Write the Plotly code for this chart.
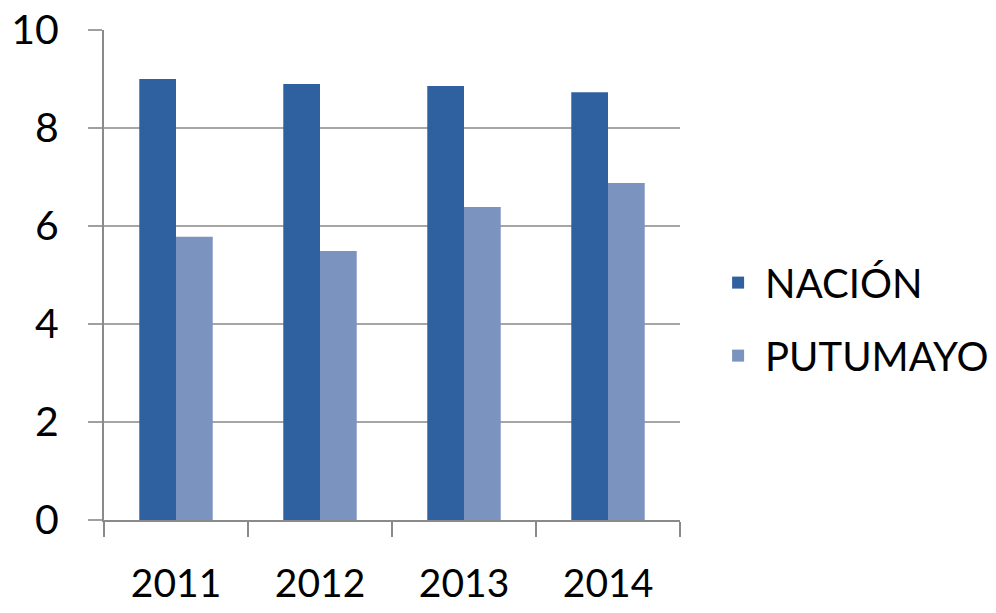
import plotly.graph_objects as go

years = ["2011", "2012", "2013", "2014"]
nacion = [9.0, 8.9, 8.86, 8.73]
putumayo = [5.78, 5.49, 6.39, 6.88]
y_ticks = [0, 2, 4, 6, 8, 10]

FONT = "Lato, 'Open Sans', sans-serif"

fig = go.Figure()
fig.add_trace(go.Bar(x=years, y=nacion, name="NACIÓN", legendgroup="a",
                     marker=dict(color="#2f609f", line=dict(width=0))))
fig.add_trace(go.Bar(x=years, y=putumayo, name="PUTUMAYO", legendgroup="b",
                     marker=dict(color="#7b93bf", line=dict(width=0))))

fig.update_layout(
    width=996, height=613,
    margin=dict(l=96, r=324, t=22, b=101, autoexpand=False),
    paper_bgcolor="white", plot_bgcolor="white",
    barmode="group", bargap=0.49, bargroupgap=0,
    font=dict(family=FONT, color="black", size=40),
    showlegend=True,
    legend=dict(x=1.054, y=0.41, xanchor="left", yanchor="middle",
                xref="paper", yref="paper",
                font=dict(size=40, family=FONT),
                tracegroupgap=18, itemwidth=44, bgcolor="rgba(0,0,0,0)"),
    xaxis=dict(showline=True, linecolor="#8a8a8a", linewidth=2,
               ticks="outside", tickson="boundaries", ticklen=15,
               tickcolor="#8a8a8a", tickwidth=2, automargin=False,
               tickfont=dict(size=39, family=FONT),
               ticklabelstandoff=28, showgrid=False,
               ticklabeloverflow="allow"),
    yaxis=dict(range=[0, 10.001], tickvals=y_ticks, showline=True,
               linecolor="#8a8a8a", linewidth=2, automargin=False,
               ticks="outside", ticklen=14, tickcolor="#a0a0a0", tickwidth=2,
               showgrid=True, gridcolor="#a6a6a6", gridwidth=2,
               zeroline=False, tickfont=dict(size=41, family=FONT),
               ticklabelstandoff=21, ticklabeloverflow="allow"),
)

fig.write_html("out.html")
